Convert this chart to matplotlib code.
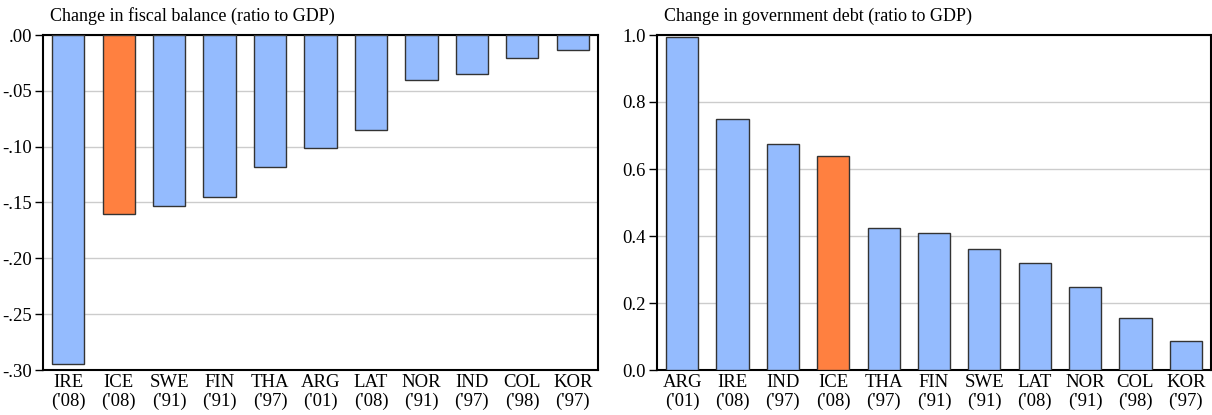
import numpy as np
import matplotlib
matplotlib.use('Agg')
import matplotlib.pyplot as plt

plt.rcParams['font.family'] = ['Liberation Serif', 'DejaVu Serif']
plt.rcParams['font.size'] = 13.5

# Left panel: change in fiscal balance
fb_labels = ["IRE\n('08)", "ICE\n('08)", "SWE\n('91)", "FIN\n('91)", "THA\n('97)", "ARG\n('01)",
             "LAT\n('08)", "NOR\n('91)", "IND\n('97)", "COL\n('98)", "KOR\n('97)"]
fb_values = [-0.295, -0.160, -0.153, -0.145, -0.118, -0.101, -0.085, -0.040, -0.035, -0.021, -0.013]
fb_ticks = [0.0, -0.05, -0.10, -0.15, -0.20, -0.25, -0.30]
fb_ticklabels = ['.00', '-.05', '-.10', '-.15', '-.20', '-.25', '-.30']

# Right panel: change in government debt
gd_labels = ["ARG\n('01)", "IRE\n('08)", "IND\n('97)", "ICE\n('08)", "THA\n('97)", "FIN\n('91)",
             "SWE\n('91)", "LAT\n('08)", "NOR\n('91)", "COL\n('98)", "KOR\n('97)"]
gd_values = [0.993, 0.750, 0.675, 0.640, 0.425, 0.410, 0.362, 0.320, 0.247, 0.155, 0.088]
gd_ticks = [0.0, 0.2, 0.4, 0.6, 0.8, 1.0]
gd_ticklabels = ['0.0', '0.2', '0.4', '0.6', '0.8', '1.0']

blue = '#94BBFE'
orange = '#FF8040'

fig = plt.figure(figsize=(12.12, 4.15), dpi=100)
W, H = 1212, 415
ax1 = fig.add_axes([43 / W, (H - 370) / H, 555 / W, 335 / H])
ax2 = fig.add_axes([657 / W, (H - 370) / H, 554 / W, 335 / H])


def draw(ax, labels, values, ticks, ticklabels, title, ylim):
    x = np.arange(len(labels))
    colors = [orange if l.startswith('ICE') else blue for l in labels]
    ax.bar(x, values, width=0.64, color=colors, edgecolor='#333333', linewidth=1.0, zorder=3)
    ax.set_xlim(-0.5, len(labels) - 0.5)
    ax.set_ylim(*ylim)
    ax.set_yticks(ticks)
    ax.set_yticklabels(ticklabels)
    ax.set_xticks(x)
    ax.set_xticklabels(labels, linespacing=1.15)
    ax.tick_params(axis='x', length=0, pad=3)
    ax.tick_params(axis='y', length=6, width=1, direction='out', pad=2)
    ax.grid(axis='y', color='#cccccc', linewidth=1, zorder=0)
    for s in ax.spines.values():
        s.set_linewidth(1.5)
        s.set_color('black')
    ax.set_title(title, loc='left', fontsize=13, pad=10, x=0.012)


draw(ax1, fb_labels, fb_values, fb_ticks, fb_ticklabels,
     'Change in fiscal balance (ratio to GDP)', (-0.30, 0.0))
draw(ax2, gd_labels, gd_values, gd_ticks, gd_ticklabels,
     'Change in government debt (ratio to GDP)', (0.0, 1.0))

fig.savefig('out.png', dpi=100)
